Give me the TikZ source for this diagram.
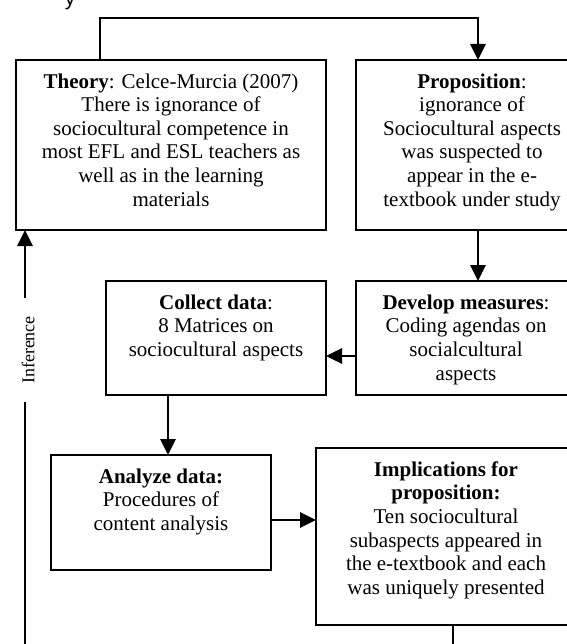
\documentclass[tikz,border=0pt]{standalone}
\usepackage{fontspec}
\setmainfont{Liberation Serif}
\newfontfamily\arialf{Liberation Sans}
\usetikzlibrary{arrows.meta}
\newcommand\fs{\rule{0pt}{15pt}}
\begin{document}
\begin{tikzpicture}[x=1pt,y=-1pt,
  box/.style={draw, line width=1.8pt, anchor=north west, inner sep=0pt, outer sep=0pt},
  txt/.style={anchor=north, align=center, inner sep=0pt, font=\fontsize{21}{23.6}\selectfont},
  conn/.style={line width=2.8pt},
  arr/.style={conn, -{Triangle[length=16pt,width=15pt]}},
]
\useasboundingbox (0,0) rectangle (566,644);
% fragment of a caption above the figure
\node[anchor=base, inner sep=0pt, font=\arialf\fontsize{21}{24}\selectfont] (frag) at (70,6) {y};

% boxes
\node[box, minimum width=310pt, minimum height=170pt] (theory) at (16,60) {};
\node[box, minimum width=232pt, minimum height=170pt] (prop) at (356,60) {};
\node[box, minimum width=220pt, minimum height=114pt] (collect) at (106,281) {};
\node[box, minimum width=220pt, minimum height=114pt] (develop) at (356,281) {};
\node[box, minimum width=220pt, minimum height=115pt] (analyze) at (51,455) {};
\node[box, minimum width=260pt, minimum height=177pt] (impl) at (316,448) {};

% texts
\node[txt] (theoryT) at (171,73) {\fs\textbf{Theory}: Celce-Murcia (2007)\\There is ignorance of\\sociocultural competence in\\most EFL and ESL teachers as\\well as in the learning\\materials};
\node[txt] (propT) at (472,73) {\fs\textbf{Proposition}:\\ignorance of\\Sociocultural aspects\\was suspected to\\appear in the e-\\textbook under study};
\node[txt] (collectT) at (216,294) {\fs\textbf{Collect data}:\\8 Matrices on\\sociocultural aspects};
\node[txt] (developT) at (466,294) {\fs\textbf{Develop measures}:\\Coding agendas on\\socialcultural\\aspects};
\node[txt] (analyzeT) at (161,468) {\fs\textbf{Analyze data:}\\Procedures of\\content analysis};
\node[txt] (implT) at (446,461) {\fs\textbf{Implications for}\\\textbf{proposition:}\\Ten sociocultural\\subaspects appeared in\\the e-textbook and each\\was uniquely presented};

% connectors
\coordinate (tl) at (100,18);
\coordinate (tr) at (478,18);
\draw[arr] (theory.north -| tl) -- (tl) -- (tr) -- (prop.north -| tr);
\draw[arr] (prop.south -| tr) -- (develop.north -| tr);
\coordinate (dc) at (0,356);
\draw[arr] (develop.west |- dc) -- (collect.east |- dc);
\coordinate (ca) at (168,0);
\draw[arr] (collect.south -| ca) -- (analyze.north -| ca);
\coordinate (ai) at (0,520);
\draw[arr] (analyze.east |- ai) -- (impl.west |- ai);
\coordinate (bot) at (453,660);
\draw[conn] (impl.south -| bot) -- (bot);

% inference line
\coordinate (lb) at (25,660);
\node[rotate=90, inner xsep=18pt, inner ysep=0pt, font=\fontsize{18}{20}\selectfont] (inf) at (28,350) {Inference};
\draw[conn] (lb) -- (inf.west -| lb);
\draw[arr] (inf.east -| lb) -- (theory.south -| lb);
\end{tikzpicture}
\end{document}
